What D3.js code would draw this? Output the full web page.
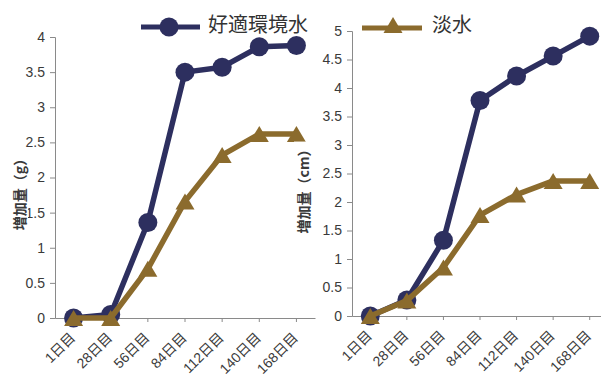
<!DOCTYPE html>
<html>
<head>
<meta charset="utf-8">
<script src="https://cdn.jsdelivr.net/npm/d3@7"></script>
<style>
  html, body { margin: 0; padding: 0; background: #fff; }
  svg { display: block; }
  text { font-family: "Liberation Sans", Arial, "Noto Sans CJK JP", sans-serif; }
</style>
</head>
<body>
<svg id="chart" width="601" height="378"></svg>
<script>
// Sampling days (shared category axis)
const days = ["1日目", "28日目", "56日目", "84日目", "112日目", "140日目", "168日目"];

// Series names
const seriesNames = ["好適環境水", "淡水"];

// Weight gain (g)
const weightOptimal = [0, 0.05, 1.36, 3.50, 3.57, 3.86, 3.88];
const weightFresh   = [0, 0, 0.70, 1.66, 2.32, 2.62, 2.62];

// Length gain (cm)
const lengthOptimal = [0, 0.28, 1.33, 3.78, 4.21, 4.56, 4.91];
const lengthFresh   = [0, 0.27, 0.85, 1.77, 2.13, 2.37, 2.37];

// Y axis ticks
const weightTicks = [0, 0.5, 1, 1.5, 2, 2.5, 3, 3.5, 4];
const lengthTicks = [0, 0.5, 1, 1.5, 2, 2.5, 3, 3.5, 4, 4.5, 5];

const navy = "#2d2f5f";
const brown = "#8b6b2d";
const axisGray = "#8a8a8a";
const labelGray = "#3a3a3a";

const svg = d3.select("#chart");

const triangle = d3.symbol().type({
  draw(ctx, size) {
    // isosceles triangle centred on its bounding box
    const w = 19, h = 16;
    ctx.moveTo(0, -h / 2);
    ctx.lineTo(w / 2, h / 2);
    ctx.lineTo(-w / 2, h / 2);
    ctx.closePath();
  }
});

function panel(opts) {
  const g = svg.append("g");
  const x = d3.scaleBand().domain(days).range([opts.x0, opts.x1]);
  const y = d3.scaleLinear().domain([0, opts.yMax]).range([opts.yBottom, opts.yTop]);

  // y axis
  const ya = g.append("g")
    .attr("transform", `translate(${opts.x0},0)`)
    .call(d3.axisLeft(y).tickValues(opts.ticks).tickSize(5).tickPadding(5)
      .tickFormat(d3.format("")));
  ya.select(".domain").attr("stroke", axisGray);
  ya.selectAll(".tick line").attr("stroke", axisGray);
  ya.selectAll(".tick text").attr("fill", labelGray).attr("font-size", 14);

  // x axis
  const xa = g.append("g")
    .attr("transform", `translate(0,${opts.yBottom})`)
    .call(d3.axisBottom(x).tickSize(4).tickSizeOuter(0));
  xa.select(".domain").attr("stroke", axisGray);
  xa.selectAll(".tick line").attr("stroke", axisGray);
  xa.selectAll(".tick text")
    .attr("fill", labelGray)
    .attr("font-size", 14)
    .attr("text-anchor", "end")
    .attr("dominant-baseline", "central")
    .attr("y", 0).attr("dy", 0)
    .attr("transform", "translate(-1,17) rotate(-45)");

  // y axis title, on an opaque backing
  const title = g.append("g")
    .attr("transform", `translate(${opts.titleX},${opts.titleY}) rotate(-90)`);
  const tt = title.append("text")
    .attr("text-anchor", "middle")
    .attr("dominant-baseline", "central")
    .attr("font-size", 14)
    .attr("font-weight", "bold")
    .attr("fill", labelGray)
    .style("font-family", "'Noto Sans CJK JP', sans-serif")
    .text(opts.title);
  const bb = tt.node().getBBox();
  title.insert("rect", "text")
    .attr("x", bb.x - 1).attr("y", bb.y + 1)
    .attr("width", bb.width + 2).attr("height", bb.height - 2)
    .attr("fill", "#fff");

  const line = d3.line()
    .x((d, i) => x(days[i]) + x.bandwidth() / 2)
    .y(d => y(d));

  // optimal-environment water series (circles)
  g.append("path").datum(opts.a)
    .attr("d", line).attr("fill", "none")
    .attr("stroke", navy).attr("stroke-width", 5.5).attr("stroke-linejoin", "round");
  g.selectAll(".ca").data(opts.a).join("circle")
    .attr("cx", (d, i) => x(days[i]) + x.bandwidth() / 2)
    .attr("cy", d => y(d))
    .attr("r", 9.5).attr("fill", navy);

  // freshwater series (triangles)
  g.append("path").datum(opts.b)
    .attr("d", line).attr("fill", "none")
    .attr("stroke", brown).attr("stroke-width", 5.5).attr("stroke-linejoin", "round");
  g.selectAll(".tb").data(opts.b).join("path")
    .attr("d", triangle())
    .attr("transform", (d, i) => `translate(${x(days[i]) + x.bandwidth() / 2},${y(d)})`)
    .attr("fill", brown);
}

panel({
  x0: 55, x1: 315, yTop: 37, yBottom: 318, yMax: 4, ticks: weightTicks,
  a: weightOptimal, b: weightFresh,
  title: "増加量（g）", titleX: 19, titleY: 191
});

panel({
  x0: 352, x1: 608, yTop: 31, yBottom: 316, yMax: 5, ticks: lengthTicks,
  a: lengthOptimal, b: lengthFresh,
  title: "増加量（cm）", titleX: 303, titleY: 188
});

// legend
const leg = svg.append("g");
leg.append("line").attr("x1", 141).attr("x2", 200).attr("y1", 27).attr("y2", 27)
  .attr("stroke", navy).attr("stroke-width", 5);
leg.append("circle").attr("cx", 169).attr("cy", 27).attr("r", 9.5).attr("fill", navy);
leg.append("text").attr("x", 208).attr("y", 23)
  .attr("dominant-baseline", "central").attr("font-size", 20).attr("fill", "#333")
  .style("font-family", "'Noto Sans CJK JP', sans-serif")
  .text(seriesNames[0]);

leg.append("line").attr("x1", 362).attr("x2", 422).attr("y1", 28).attr("y2", 28)
  .attr("stroke", brown).attr("stroke-width", 5);
leg.append("path").attr("d", triangle()).attr("transform", "translate(393,25)").attr("fill", brown);
leg.append("text").attr("x", 432).attr("y", 23)
  .attr("dominant-baseline", "central").attr("font-size", 20).attr("fill", "#333")
  .style("font-family", "'Noto Sans CJK JP', sans-serif")
  .text(seriesNames[1]);
</script>
</body>
</html>
